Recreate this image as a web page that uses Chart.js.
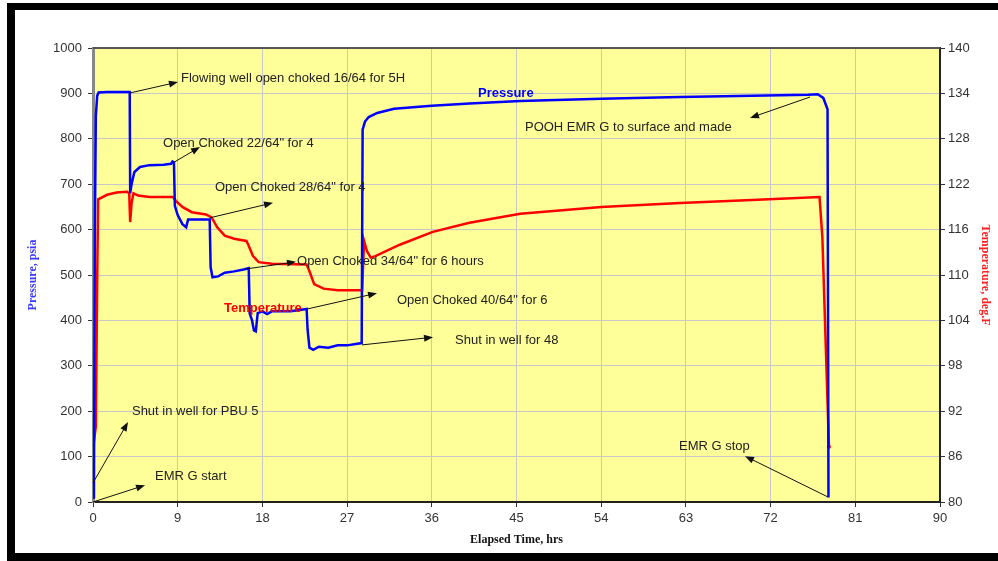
<!DOCTYPE html>
<html>
<head>
<meta charset="utf-8">
<script src="https://cdn.jsdelivr.net/npm/chart.js@4/dist/chart.umd.min.js"></script>
<style>
  body { margin: 0; background: #fff; }
  canvas { display: block; }
</style>
</head>
<body>
<canvas id="myChart" width="998" height="561"></canvas>
<script>
// pressure trace (left axis)
const pressureHrs = [0, 0.1, 0.2, 0.3, 0.45, 0.6, 1.5, 2.5, 3.9, 3.95, 4.1, 4.4, 5.0, 6.0, 7.5, 8.3, 8.45, 8.6, 8.7, 9.0, 9.5, 9.9, 10.1, 11.0, 12.4, 12.5, 12.7, 13.3, 14.0, 15.0, 16.0, 16.55, 16.65, 16.9, 17.1, 17.3, 17.5, 18.0, 18.5, 19.0, 21.0, 22.7, 22.8, 23.0, 23.4, 24.0, 25.0, 26.0, 27.0, 28.55, 28.65, 28.9, 29.3, 30.2, 32.0, 36.0, 40.0, 45.4, 54.0, 62.4, 70.0, 76.0, 77.0, 77.6, 78.05, 78.15];
const pressurePsi = [10, 12, 600, 850, 895, 902, 903, 903, 903, 680, 700, 727, 738, 742, 743, 745, 750, 748, 652, 632, 612, 605, 622, 622, 622, 517, 495, 497, 505, 508, 512, 515, 415, 400, 378, 376, 416, 420, 414, 420, 420, 425, 380, 340, 335, 342, 340, 345, 345, 350, 820, 838, 848, 857, 866, 873, 878, 883, 888, 892, 895, 897, 898, 890, 865, 10];

// temperature trace (right axis)
const tempHrs = [0, 0.3, 0.45, 0.55, 1.5, 2.5, 3.6, 3.85, 3.95, 4.1, 4.3, 4.8, 6.0, 8.5, 8.8, 9.5, 10.5, 12.0, 12.6, 13.2, 14.0, 15.0, 16.3, 16.5, 17.0, 17.6, 19.0, 22.7, 23.0, 23.5, 24.5, 26.0, 28.6, 28.8, 29.1, 29.5, 30.0, 32.6, 36.1, 40.0, 45.4, 54.0, 62.4, 70.0, 77.2, 77.5, 78.2];
const tempF = [87, 90, 110, 120, 120.6, 120.9, 121.0, 120.8, 117.0, 119.5, 120.8, 120.5, 120.3, 120.3, 119.8, 119.0, 118.3, 118.0, 117.6, 116.3, 115.2, 114.8, 114.5, 114.0, 112.5, 111.7, 111.5, 111.4, 110.5, 108.8, 108.2, 108.0, 108.0, 114.5, 113.2, 112.3, 112.5, 114.0, 115.7, 116.9, 118.1, 119.0, 119.5, 119.9, 120.3, 115, 87.3];

// notes: text, anchor (hrs, psia), optional arrow from -> to (hrs, psia)
const notes = [
  { text: 'Flowing well open choked 16/64 for 5H', x: 9.35, y: 934, from: [3.93, 901], to: [9.03, 925] },
  { text: 'Open Choked 22/64" for 4', x: 7.44, y: 789, from: [8.5, 747], to: [11.37, 782] },
  { text: 'Open Choked 28/64" for 4', x: 12.96, y: 692, from: [12.43, 626], to: [19.13, 659] },
  { text: 'Open Choked 34/64" for 6 hours', x: 21.68, y: 529, from: [16.15, 513], to: [21.57, 529] },
  { text: 'Temperature', x: 13.92, y: 427, color: '#ff0000', bold: true, from: [22.74, 425], to: [30.18, 460] },
  { text: 'Open Choked 40/64" for 6', x: 32.3, y: 443 },
  { text: 'Shut in well for 48', x: 38.47, y: 357, from: [28.58, 346], to: [36.13, 363] },
  { text: 'Pressure', x: 40.91, y: 901, color: '#0000ff', bold: true },
  { text: 'POOH EMR G to surface and made', x: 45.9, y: 826, from: [76.19, 892], to: [69.81, 846] },
  { text: 'EMR G stop', x: 62.27, y: 123, from: [78.1, 11], to: [69.28, 101] },
  { text: 'Shut in well for PBU 5', x: 4.14, y: 200, from: [0, 42], to: [3.72, 176] },
  { text: 'EMR G start', x: 6.59, y: 57, from: [0, 0], to: [5.53, 37] }
];

const tickFont = { family: 'Liberation Sans, Arial', size: 13 };
const titleFont = { family: 'Liberation Serif, Times New Roman', size: 12, weight: 'bold' };

function drawArrow(ctx, x1, y1, x2, y2) {
    const ang = Math.atan2(y2 - y1, x2 - x1);
    const len = 9, half = 3.5;
    ctx.beginPath();
    ctx.moveTo(x1, y1);
    ctx.lineTo(x2 - Math.cos(ang) * len * 0.6, y2 - Math.sin(ang) * len * 0.6);
    ctx.stroke();
    ctx.beginPath();
    ctx.moveTo(x2, y2);
    ctx.lineTo(x2 - Math.cos(ang) * len - Math.sin(ang) * half, y2 - Math.sin(ang) * len + Math.cos(ang) * half);
    ctx.lineTo(x2 - Math.cos(ang) * len + Math.sin(ang) * half, y2 - Math.sin(ang) * len - Math.cos(ang) * half);
    ctx.closePath();
    ctx.fill();
}

const framePlugin = {
    id: 'frame',
    beforeDraw(chart) {
        const { ctx, chartArea: a } = chart;
        ctx.save();
        ctx.fillStyle = '#fff';
        ctx.fillRect(0, 0, chart.width, chart.height);
        ctx.fillStyle = '#000';
        ctx.fillRect(7, 3, chart.width, chart.height);
        ctx.fillStyle = '#fff';
        ctx.fillRect(15, 10, chart.width, 543);
        ctx.fillStyle = '#ffff99';
        ctx.fillRect(a.left, a.top, a.right - a.left, a.bottom - a.top);
        ctx.restore();
    },
    afterDraw(chart) {
        const { ctx, chartArea: a } = chart;
        ctx.save();
        ctx.strokeStyle = '#555';
        ctx.lineWidth = 2;
        ctx.beginPath();
        ctx.moveTo(a.left, a.top);
        ctx.lineTo(a.right, a.top);
        ctx.stroke();
        ctx.restore();
    }
};

const notesPlugin = {
    id: 'notes',
    afterDatasetsDraw(chart) {
        const { ctx, scales } = chart;
        const sx = v => scales.x.getPixelForValue(v);
        const sy = v => scales.y.getPixelForValue(v);
        ctx.save();
        ctx.strokeStyle = '#111';
        ctx.fillStyle = '#111';
        ctx.lineWidth = 1;
        notes.forEach(n => {
            if (n.from) drawArrow(ctx, sx(n.from[0]), sy(n.from[1]), sx(n.to[0]), sy(n.to[1]));
        });
        ctx.textBaseline = 'middle';
        ctx.textAlign = 'left';
        notes.forEach(n => {
            ctx.font = (n.bold ? 'bold ' : '') + '13px "Liberation Sans", Arial';
            ctx.fillStyle = n.color || '#222';
            ctx.fillText(n.text, sx(n.x), sy(n.y));
        });
        ctx.restore();
    }
};

const ctx = document.getElementById('myChart').getContext('2d');

const config = {
    type: 'line',
    data: {
        datasets: [{
            label: 'Pressure',
            data: pressureHrs.map((h, i) => ({ x: h, y: pressurePsi[i] })),
            borderColor: '#0000ff',
            borderWidth: 2.5,
            pointRadius: 0,
            yAxisID: 'y'
        }, {
            label: 'Temperature',
            data: tempHrs.map((h, i) => ({ x: h, y: tempF[i] })),
            borderColor: '#ff0000',
            borderWidth: 2.5,
            pointRadius: tempHrs.map((h, i) => i === tempHrs.length - 1 ? 2 : 0),
            pointBackgroundColor: '#ff0000',
            pointBorderWidth: 0,
            yAxisID: 'y2'
        }]
    },
    options: {
        responsive: false,
        animation: false,
        devicePixelRatio: 1,
        layout: { padding: { left: 26, right: 6, top: 48, bottom: 14 } },
        plugins: { legend: { display: false }, tooltip: { enabled: false } },
        scales: {
            x: {
                type: 'linear', min: 0, max: 90,
                ticks: { stepSize: 9, font: tickFont, color: '#333', padding: 4, maxRotation: 0, callback: v => v },
                grid: { color: '#c8c8c8', tickColor: '#333', tickLength: 5 },
                border: { color: '#222', width: 2 },
                title: { display: true, text: 'Elapsed Time, hrs', font: titleFont, color: '#111', padding: 0 },
                afterFit: s => { s.height = 45; }
            },
            y: {
                position: 'left', min: 0, max: 1000,
                ticks: { stepSize: 100, font: tickFont, color: '#333', padding: 6, callback: v => v },
                grid: { color: '#c8c8c8', tickColor: '#333', tickLength: 5 },
                border: { color: '#888', width: 3 },
                title: { display: true, text: 'Pressure, psia', font: titleFont, color: '#3a3aff', padding: 0 },
                afterFit: s => { s.width = 67; }
            },
            y2: {
                position: 'right', min: 80, max: 140,
                ticks: { stepSize: 6, font: tickFont, color: '#333', padding: 3, callback: v => v },
                grid: { drawOnChartArea: false, tickColor: '#333', tickLength: 5 },
                border: { color: '#222', width: 2 },
                title: { display: true, text: 'Temperature, deg.F', font: titleFont, color: '#ff2020', padding: 0 },
                afterFit: s => { s.width = 52; }
            }
        }
    },
    plugins: [framePlugin, notesPlugin]
};

const myChart = new Chart(ctx, config);
</script>
</body>
</html>
